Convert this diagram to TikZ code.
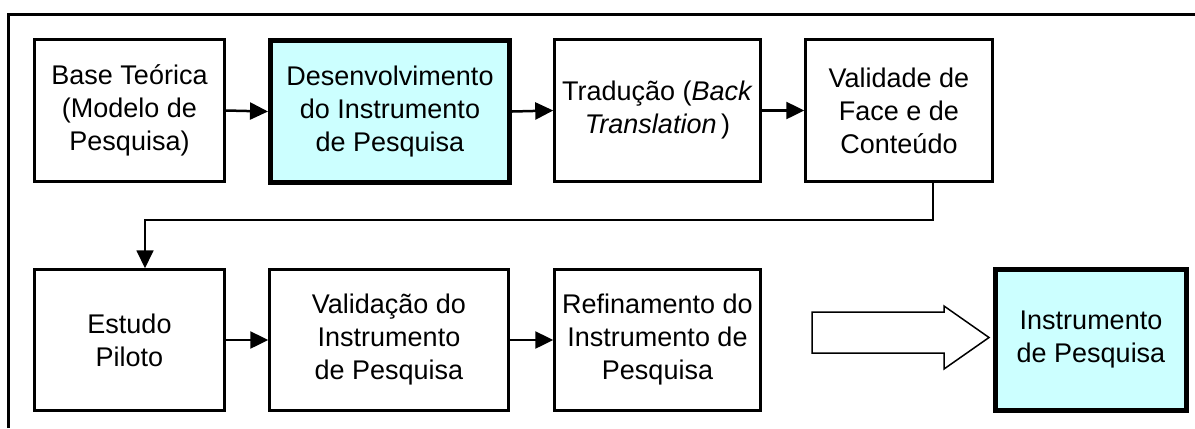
\documentclass[tikz,border=0pt]{standalone}
\usepackage{fontspec}
\setmainfont{Liberation Sans}
\usetikzlibrary{arrows.meta,calc}
\definecolor{lightcyan}{HTML}{CCFFFF}
\tikzset{
  stepbox/.style={draw=black, line width=2.5bp, fill=white, align=center, inner sep=0pt,
    font=\fontsize{27bp}{33bp}\selectfont},
  keybox/.style={stepbox, line width=5bp, fill=lightcyan},
  conn/.style={line width=2.5bp, -{Triangle[length=18bp,width=17bp]}},
  thinconn/.style={line width=1.8bp, -{Triangle[length=18bp,width=17bp]}},
  bigarrow/.style={draw=black, line width=1.5bp, fill=white, line join=miter},
  frame/.style={draw=black, line width=3bp}
}
\begin{document}
\begin{tikzpicture}[x=1bp,y=-1bp]
\useasboundingbox (0,0) rectangle (1195,428);
\fill[white] (0,0) rectangle (1195,428);
\draw[frame] (8,428) -- (8,14) -- (1195,14);

\node[stepbox, minimum width=190bp, minimum height=142bp] (b1) at (129.5,110.5)
  {Base Teórica\\(Modelo de\\Pesquisa)};
\node[keybox, minimum width=239bp, minimum height=142bp] (b2) at (390,111.5)
  {Desenvolvimento\\do Instrumento\\de Pesquisa};
\node[stepbox, minimum width=206bp, minimum height=142bp] (b3) at (657.5,110.5)
  {Tradução (\textit{Back}\\\textit{Translation}\,)};
\node[stepbox, minimum width=187bp, minimum height=142bp] (b4) at (899,110.5)
  {Validade de\\Face e de\\Conteúdo};

\node[stepbox, minimum width=190bp, minimum height=141bp] (b5) at (129.5,340)
  {Estudo\\Piloto};
\node[stepbox, minimum width=239bp, minimum height=141bp] (b6) at (389,340)
  {Validação do\\Instrumento\\de Pesquisa};
\node[stepbox, minimum width=206bp, minimum height=141bp] (b7) at (657.5,340)
  {Refinamento do\\Instrumento de\\Pesquisa};
\node[keybox, minimum width=191bp, minimum height=141bp] (b8) at (1091,340)
  {Instrumento\\de Pesquisa};

\draw[conn] (b1.east) -- (b2.west);
\draw[conn] (b2.east) -- (b3.west);
\draw[conn] (b3.east) -- (b4.west);
\draw[conn] (b5.east) -- (b6.west);
\draw[conn] (b6.east) -- (b7.west);

\coordinate (turnR) at ($(b4.south)+(34bp,-37bp)$);
\draw[thinconn] ([xshift=34bp]b4.south) -- (turnR) -| ([xshift=15.5bp]b5.north);

\draw[bigarrow] (812,312) -- (944,312) -- (944,306) -- (989,337.5) -- (944,369)
  -- (944,353) -- (812,353) -- cycle;
\end{tikzpicture}
\end{document}
